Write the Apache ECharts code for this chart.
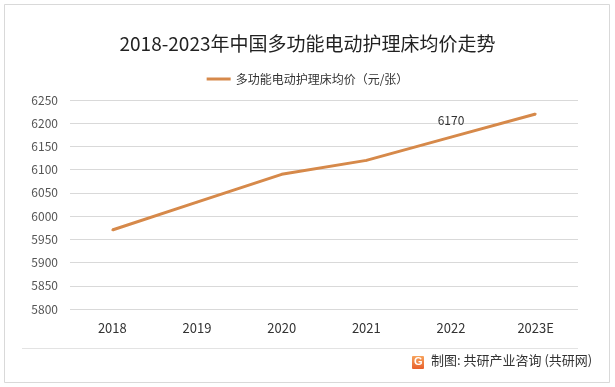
<!DOCTYPE html>
<html>
<head>
<meta charset="utf-8">
<script src="https://cdn.jsdelivr.net/npm/echarts@6/dist/echarts.min.js"></script>
<style>html,body{margin:0;padding:0;background:#fff}#c{width:615px;height:387px}</style>
</head>
<body>
<div id="c"></div>
<script>
var categories = ['2018', '2019', '2020', '2021', '2022', '2023E'];
var priceValues = [5970, 6030, 6090, 6120, 6170, 6220];
var labeledIndex = 4;
var seriesName = '多功能电动护理床均价（元/张）';
var titleText = '2018-2023年中国多功能电动护理床均价走势';
var sourceText = '制图: 共研产业咨询 (共研网)';

var font = '"Noto Sans CJK SC", "Microsoft YaHei", sans-serif';
var chart = echarts.init(document.getElementById('c'), null, {renderer: 'canvas'});
chart.setOption({
  backgroundColor: '#fff',
  animation: false,
  title: {
    text: titleText, left: 'center', top: 29,
    textStyle: {fontFamily: font, fontSize: 19, fontWeight: 'normal', color: '#222'}
  },
  legend: {
    data: [seriesName], top: 68, left: 'center', itemWidth: 24, itemHeight: 3, itemGap: 4,
    icon: 'rect', itemStyle: {color: '#D6894A', opacity: 1},
    textStyle: {fontFamily: font, fontSize: 12, color: '#333'}
  },
  grid: {left: 70, right: 37, top: 100, bottom: 78},
  xAxis: {
    type: 'category', data: categories, boundaryGap: true,
    axisLine: {show: false}, axisTick: {show: false},
    axisLabel: {fontFamily: font, fontSize: 13, color: '#333', margin: 13}
  },
  yAxis: {
    type: 'value', min: 5800, max: 6250, interval: 50,
    axisLine: {show: false}, axisTick: {show: false},
    axisLabel: {fontFamily: font, fontSize: 12, color: '#555', margin: 12, formatter: function (v) { return String(v); }},
    splitLine: {lineStyle: {color: '#d9d9d9', width: 1}}
  },
  series: [{
    name: seriesName, type: 'line', data: priceValues.map(function (v, i) {
      return i === labeledIndex ? {value: v, label: {show: true}} : v;
    }),
    showSymbol: true, symbol: 'circle', symbolSize: 2,
    lineStyle: {color: '#D6894A', width: 3},
    itemStyle: {color: '#D6894A'},
    label: {show: false, position: 'top', distance: 10, fontFamily: font, fontSize: 12, color: '#333'}
  }],
  graphic: [
    {type: 'rect', shape: {x: 4.5, y: 4.5, width: 605, height: 378}, style: {fill: 'none', stroke: '#d9d9d9', lineWidth: 1}, silent: true},
    {type: 'line', shape: {x1: 22, y1: 348.5, x2: 578, y2: 348.5}, style: {stroke: '#e3e3e3', lineWidth: 1}},
    {type: 'rect', shape: {x: 412, y: 356, width: 12, height: 13, r: 1},
      style: {fill: new echarts.graphic.LinearGradient(0, 0, 0, 1, [{offset: 0, color: '#F7A35C'}, {offset: 1, color: '#E8602C'}])}},
    {type: 'text', left: 414, top: 356, style: {text: 'G', fill: '#fff', font: 'bold 11px sans-serif'}},
    {type: 'text', left: 431, top: 354, style: {text: sourceText, fill: '#333', font: '13px "Noto Sans CJK SC", sans-serif'}}
  ]
});
</script>
</body>
</html>
